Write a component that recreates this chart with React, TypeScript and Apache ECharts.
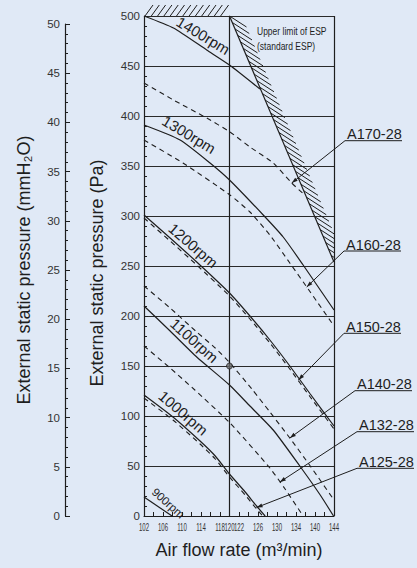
import React, { useEffect, useRef } from "react";
import * as echarts from "echarts";

const FONT = "'Liberation Sans', Arial, Helvetica, sans-serif";
const INK = "#1e1e1e";
const BG = "#e0e9f6";

// ---------- axes ----------
const X_MIN = 102;
const X_MAX = 142;
const X_STEP = 2;
// printed tick labels and the tick where each is printed
const X_LABEL_AT = [102, 106, 110, 114, 118, 120, 122, 126, 130, 134, 138, 142];
const X_LABELS = ["102", "106", "110", "114", "118", "120", "122", "126", "130", "134", "140", "144"];
const PA_MAX = 500;
const PA_STEP = 50;
const MM_MAX = 50;
const MM_STEP = 5;

// ---------- fan curves (x = air flow, y = Pa) ----------
const RPM1400_X = [102, 108.2, 115.2, 120.0, 126.4];
const RPM1400_PA = [500, 488, 466, 451, 427];

const A170_X = [102, 108.2, 115.2, 120.1, 124.3, 129.2, 133.1, 135.6];
const A170_PA = [433, 416, 398, 384, 369, 353, 333, 322];

const RPM1300_X = [102, 109.6, 115.9, 120.0, 127.1, 131.3, 135.5, 142];
const RPM1300_PA = [391, 376, 353, 336, 301, 279, 251, 206];

const A160_X = [102, 110.2, 120.1, 124.3, 128.5, 132.7, 137.0, 142];
const A160_PA = [376, 353, 321, 304, 281, 253, 224, 190];

const RPM1200_X = [102, 107.5, 113.1, 120.0, 124.3, 128.5, 132.7, 137.0, 142];
const RPM1200_PA = [301, 278, 254, 223, 200, 176, 150, 122, 90];

const A150_X = [102, 107.5, 113.1, 120.0, 124.3, 128.5, 132.7, 137.0, 142];
const A150_PA = [298, 275, 251, 220, 197, 173, 147, 119, 87];

const A140_X = [102, 107.5, 113.1, 117.0, 120.1, 124.7, 128.5, 132.7, 137.0, 142];
const A140_PA = [230, 208, 184, 168, 153, 127, 104, 78, 50, 16];

const RPM1100_X = [102, 107.5, 113.1, 120.0, 124.3, 129.2, 134.8, 139.1, 141.9];
const RPM1100_PA = [210, 185, 159, 131, 110, 86, 50, 21, 0];

const A132_X = [102, 107.5, 112.7, 120.1, 128.5, 131.7, 135.5];
const A132_PA = [170, 148, 126, 93, 48, 27, 0];

const RPM1000_X = [102, 108.1, 113.8, 117.0, 120.0, 123.3, 125.7, 127.5];
const RPM1000_PA = [121, 99, 75, 60, 42, 24, 10, 0];

const A125_X = [102, 108.1, 113.8, 117.0, 120.0, 123.3, 125.7, 127.0];
const A125_PA = [118, 96, 72, 57, 39, 21, 7, 0];

const RPM900_X = [102, 107.9];
const RPM900_PA = [19, 0];

// upper limit of ESP (standard ESP)
const ESP_X = [120, 142];
const ESP_PA = [500, 254];

// operating point
const OP_X = [120];
const OP_PA = [150];

// reference vertical lines
const V_LINES = [120, 142];

// rpm labels: text, anchor on curve, slope angle (deg)
const RPM_LABELS = ["1400rpm", "1300rpm", "1200rpm", "1100rpm", "1000rpm", "900rpm"];
const RPM_LABEL_X = [113.4, 110.4, 111.0, 111.2, 108.9, 105.9];
const RPM_LABEL_PA = [472, 373, 263, 168, 95.6, 6.4];
const RPM_LABEL_DEG = [31, 31, 40.6, 41.6, 40.6, 41.8];

// model labels and their pointer tips on the dashed curves
const MODELS = ["A170-28", "A160-28", "A150-28", "A140-28", "A132-28", "A125-28"];
const MODEL_TIP_X = [133.1, 136.25, 134.5, 132.7, 130.6, 125.7];
const MODEL_TIP_PA = [333, 229, 136, 78, 34, 8.5];

const zip = (xs: number[], ys: number[]) => xs.map((x, i) => [x, ys[i]]);

function curve(name: string, xs: number[], ys: number[], dashed: boolean) {
  return {
    type: "line",
    name,
    data: zip(xs, ys),
    showSymbol: false,
    smooth: 0.2,
    silent: true,
    z: 3,
    lineStyle: dashed
      ? { color: INK, width: 1.1, type: [5, 4] }
      : { color: INK, width: 1.2 },
  };
}

export default function App() {
  const ref = useRef<HTMLDivElement>(null);

  useEffect(() => {
    const el = ref.current!;
    const chart = echarts.init(el, undefined, { renderer: "svg" });

    const option: any = {
      animation: false,
      backgroundColor: BG,
      textStyle: { fontFamily: FONT, color: INK },
      grid: [
        { left: 144, top: 16, width: 190, height: 500, containLabel: false },
        { left: 65, top: 24, width: 20, bottom: 52, containLabel: false },
      ],
      xAxis: [
        {
          type: "value",
          gridIndex: 0,
          min: X_MIN,
          max: X_MAX,
          interval: X_STEP,
          axisLine: { show: true, lineStyle: { color: INK, width: 1.2 } },
          axisTick: { show: true, inside: true, length: 4, lineStyle: { color: INK } },
          axisLabel: { show: false },
          splitLine: { show: false },
          name: "Air flow rate (m³/min)",
          nameLocation: "middle",
          nameGap: 25,
          nameTextStyle: { fontSize: 18, color: INK, fontFamily: FONT },
        },
        { type: "value", gridIndex: 1, show: false, min: 0, max: 1 },
      ],
      yAxis: [
        {
          type: "value",
          gridIndex: 0,
          min: 0,
          max: PA_MAX,
          interval: PA_STEP,
          axisLine: { show: true, lineStyle: { color: INK, width: 1.2 } },
          axisTick: { show: true, inside: true, length: 4, lineStyle: { color: INK } },
          minorTick: { show: true, splitNumber: 5, length: 3, lineStyle: { color: INK } },
          axisLabel: { margin: 4, fontSize: 11.5, color: "#333", fontFamily: FONT },
          splitLine: { show: true, lineStyle: { color: "#2a2a2a", width: 1 } },
          name: "External static pressure (Pa)",
          nameLocation: "middle",
          nameGap: 38,
          nameTextStyle: { fontSize: 18, color: INK, fontFamily: FONT, padding: [0, 14, 0, 0] },
        },
        {
          type: "value",
          gridIndex: 1,
          min: 0,
          max: MM_MAX,
          interval: MM_STEP,
          axisLine: { show: true, lineStyle: { color: INK, width: 1.2 } },
          axisTick: { show: true, inside: true, length: 5, lineStyle: { color: INK } },
          minorTick: { show: true, splitNumber: 5, length: 3, lineStyle: { color: INK } },
          axisLabel: { margin: 5, fontSize: 11.5, color: "#333", fontFamily: FONT },
          splitLine: { show: false },
          name: "External static pressure (mmH₂O)",
          nameLocation: "middle",
          nameGap: 32,
          nameTextStyle: { fontSize: 18, color: INK, fontFamily: FONT },
        },
      ],
      series: [
        curve("1400rpm", RPM1400_X, RPM1400_PA, false),
        curve("A170-28", A170_X, A170_PA, true),
        curve("1300rpm", RPM1300_X, RPM1300_PA, false),
        curve("A160-28", A160_X, A160_PA, true),
        curve("1200rpm", RPM1200_X, RPM1200_PA, false),
        curve("A150-28", A150_X, A150_PA, true),
        curve("A140-28", A140_X, A140_PA, true),
        curve("1100rpm", RPM1100_X, RPM1100_PA, false),
        curve("A132-28", A132_X, A132_PA, true),
        curve("1000rpm", RPM1000_X, RPM1000_PA, false),
        curve("A125-28", A125_X, A125_PA, true),
        curve("900rpm", RPM900_X, RPM900_PA, false),
        {
          type: "line",
          name: "upper limit",
          data: zip(ESP_X, ESP_PA),
          showSymbol: false,
          silent: true,
          z: 4,
          lineStyle: { color: INK, width: 1.2 },
          markLine: {
            silent: true,
            symbol: "none",
            label: { show: false },
            lineStyle: { color: INK, width: 1.2, type: "solid" },
            data: V_LINES.map((v) => ({ xAxis: v })),
          },
        },
        {
          type: "custom",
          name: "hatch",
          coordinateSystem: "cartesian2d",
          silent: true,
          clip: false,
          z: 4,
          data: [[ESP_X[0], ESP_PA[0]]],
          renderItem: (params: any, api: any) => {
            const a = api.coord([ESP_X[0], ESP_PA[0]]);
            const b = api.coord([ESP_X[1], ESP_PA[1]]);
            const right = api.coord([X_MAX, 0])[0];
            const children: any[] = [];
            const n = 38;
            const hx = 17;
            const hy = 11;
            for (let i = 0; i <= n; i++) {
              const t = i / n;
              const sx = a[0] + (b[0] - a[0]) * t;
              const sy = a[1] + (b[1] - a[1]) * t;
              let ex = sx + hx;
              let ey = sy + hy;
              if (ex > right) {
                const k = (right - sx) / (ex - sx);
                ex = right;
                ey = sy + hy * k;
              }
              if (ex - sx > 0.5)
                children.push({
                  type: "line",
                  shape: { x1: sx, y1: sy, x2: ex, y2: ey },
                  style: { stroke: INK, lineWidth: 1 },
                });
            }
            const c = api.coord([X_MIN, PA_MAX]);
            const d = api.coord([120, PA_MAX]);
            for (let x0 = c[0] + 1; x0 + 8 <= d[0] + 1; x0 += 6.3) {
              children.push({
                type: "line",
                shape: { x1: x0, y1: c[1], x2: x0 + 8, y2: c[1] - 11 },
                style: { stroke: INK, lineWidth: 1 },
              });
            }
            return { type: "group", children };
          },
        },
        {
          type: "scatter",
          name: "operating point",
          data: zip(OP_X, OP_PA),
          symbol: "circle",
          symbolSize: 6,
          silent: true,
          z: 5,
          itemStyle: { color: "#6a6a6a", borderColor: INK, borderWidth: 1 },
        },
      ],
    };

    chart.setOption(option);

    const px = (x: number, y: number) =>
      chart.convertToPixel({ xAxisIndex: 0, yAxisIndex: 0 }, [x, y]) as number[];

    const g: any[] = [];

    // x tick labels (condensed print)
    const axisY = px(X_MIN, 0)[1];
    X_LABEL_AT.forEach((v, i) => {
      const p = px(v, 0);
      g.push({
        type: "text",
        x: p[0],
        y: axisY + 11,
        scaleX: 0.55,
        silent: true,
        style: {
          text: X_LABELS[i],
          fontSize: 11,
          fontFamily: FONT,
          fill: "#333",
          align: "center",
          verticalAlign: "middle",
        },
      });
    });

    // rpm labels along the curves (lifted slightly off the curve)
    RPM_LABELS.forEach((t, i) => {
      const p = px(RPM_LABEL_X[i], RPM_LABEL_PA[i]);
      const a = (RPM_LABEL_DEG[i] * Math.PI) / 180;
      const lift = 2.5;
      g.push({
        type: "text",
        x: p[0] + lift * Math.sin(a),
        y: p[1] - lift * Math.cos(a),
        rotation: -a,
        silent: true,
        style: {
          text: t,
          fontSize: i === 5 ? 11.5 : 15,
          fontFamily: FONT,
          fill: INK,
          align: "center",
          verticalAlign: "bottom",
        },
      });
    });

    // model labels with leader arrows
    const labelLeft = [345, 344, 344, 355, 357, 357];
    const labelUnder = [140.7, 251, 333.3, 390.7, 431.7, 468.3];
    const underLen = 57;
    MODELS.forEach((m, i) => {
      const tip = px(MODEL_TIP_X[i], MODEL_TIP_PA[i]);
      const s = [labelLeft[i], labelUnder[i]];
      const e = [labelLeft[i] + underLen, labelUnder[i]];
      g.push({
        type: "polyline",
        silent: true,
        shape: { points: [tip, s, e] },
        style: { stroke: INK, lineWidth: 1, fill: null },
      });
      const dx = tip[0] - s[0];
      const dy = tip[1] - s[1];
      const L = Math.hypot(dx, dy);
      const ux = dx / L;
      const uy = dy / L;
      const nx = -uy;
      const ny = ux;
      const al = 6;
      const aw = 2;
      g.push({
        type: "polygon",
        silent: true,
        shape: {
          points: [
            [tip[0], tip[1]],
            [tip[0] - al * ux + aw * nx, tip[1] - al * uy + aw * ny],
            [tip[0] - al * ux - aw * nx, tip[1] - al * uy - aw * ny],
          ],
        },
        style: { fill: INK },
      });
      g.push({
        type: "text",
        x: labelLeft[i] + 2,
        y: labelUnder[i] + 1,
        silent: true,
        style: {
          text: m,
          fontSize: 14.5,
          fontFamily: FONT,
          fill: INK,
          align: "left",
          verticalAlign: "bottom",
        },
      });
    });

    // upper limit note
    ["Upper limit of ESP", "(standard ESP)"].forEach((t, i) => {
      g.push({
        type: "text",
        x: 257,
        y: 31 + i * 15,
        scaleX: 0.74,
        silent: true,
        style: {
          text: t,
          fontSize: 11.5,
          fontFamily: FONT,
          fill: INK,
          align: "left",
          verticalAlign: "middle",
        },
      });
    });

    chart.setOption({ graphic: g });

    return () => chart.dispose();
  }, []);

  return (
    <div
      ref={ref}
      style={{ position: "fixed", left: 0, top: 0, width: 417, height: 568 }}
    />
  );
}
